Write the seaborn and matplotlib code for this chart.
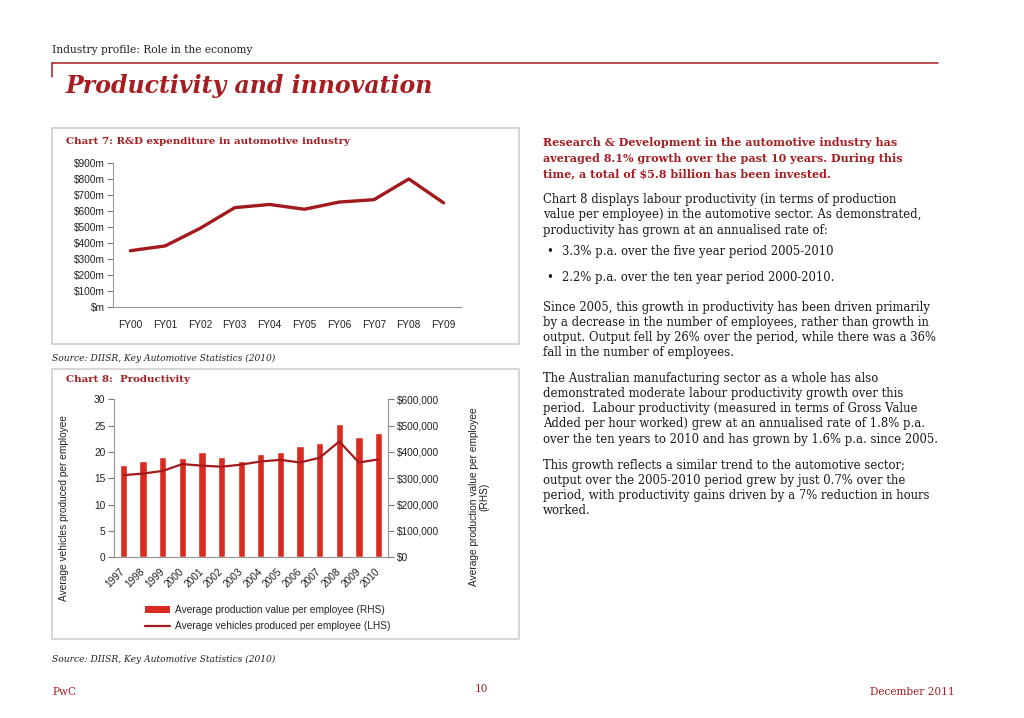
import numpy as np
import pandas as pd
import matplotlib
matplotlib.use("Agg")
import matplotlib.pyplot as plt
import seaborn as sns
from matplotlib.patches import Rectangle, Patch
from matplotlib.lines import Line2D
from matplotlib.ticker import FixedLocator, FuncFormatter

# -----------------------------------------
# Data
# -----------------------------------------
fy_labels = ["FY00", "FY01", "FY02", "FY03", "FY04", "FY05", "FY06", "FY07", "FY08", "FY09"]
rd_spend = [350, 380, 490, 620, 640, 610, 655, 670, 800, 650]  # $m

years = ["1997", "1998", "1999", "2000", "2001", "2002", "2003",
         "2004", "2005", "2006", "2007", "2008", "2009", "2010"]
prod_value = [349000, 365000, 380000, 377000, 400000, 380000, 367000,
              394000, 400000, 424000, 435000, 506000, 458000, 473000]  # RHS
vehicles = [15.6, 15.9, 16.4, 17.7, 17.4, 17.2, 17.6,
            18.2, 18.5, 18.0, 18.9, 22.0, 18.0, 18.6]  # LHS

header_text = "Industry profile: Role in the economy"
page_title = "Productivity and innovation"
chart7_title = "Chart 7: R&D expenditure in automotive industry"
chart8_title = "Chart 8:  Productivity"
source_text = "Source: DIISR, Key Automotive Statistics (2010)"

lead_lines = ["Research & Development in the automotive industry has",
              "averaged 8.1% growth over the past 10 years. During this",
              "time, a total of $5.8 billion has been invested."]
para1 = ["Chart 8 displays labour productivity (in terms of production",
         "value per employee) in the automotive sector. As demonstrated,",
         "productivity has grown at an annualised rate of:"]
bullets = ["3.3% p.a. over the five year period 2005-2010",
           "2.2% p.a. over the ten year period 2000-2010."]
para2 = ["Since 2005, this growth in productivity has been driven primarily",
         "by a decrease in the number of employees, rather than growth in",
         "output. Output fell by 26% over the period, while there was a 36%",
         "fall in the number of employees."]
para3 = ["The Australian manufacturing sector as a whole has also",
         "demonstrated moderate labour productivity growth over this",
         "period.  Labour productivity (measured in terms of Gross Value",
         "Added per hour worked) grew at an annualised rate of 1.8% p.a.",
         "over the ten years to 2010 and has grown by 1.6% p.a. since 2005."]
para4 = ["This growth reflects a similar trend to the automotive sector;",
         "output over the 2005-2010 period grew by just 0.7% over the",
         "period, with productivity gains driven by a 7% reduction in hours",
         "worked."]

# -----------------------------------------
# Style
# -----------------------------------------
RED = "#A61E22"
LINE_RED = "#A31A1E"
BAR_RED = "#D92B1F"
GREY = "#9a9a9a"
TICK = "#7a7a7a"
SERIF = "DejaVu Serif"
SANS = "Liberation Sans"

sns.set_theme(style="white")
plt.rcParams["font.family"] = [SANS, "DejaVu Sans"]

W, H = 1024, 718
fig = plt.figure(figsize=(W / 100, H / 100), dpi=100)


def fx(x):
    return x / W


def fy(y):
    return 1 - y / H


def add_ax(x0, y0, x1, y1):
    return fig.add_axes([fx(x0), fy(y1), (x1 - x0) / W, (y1 - y0) / H])


def txt(x, y, s, **kw):
    kw.setdefault("va", "center")
    kw.setdefault("family", SERIF)
    fig.text(fx(x), fy(y), s, **kw)


# -----------------------------------------
# Page furniture
# -----------------------------------------
txt(52, 50, header_text, fontsize=7.7, color="#222222")
fig.add_artist(Line2D([fx(51.5), fx(938)], [fy(62.5), fy(62.5)], color=RED, lw=1.1))
fig.add_artist(Line2D([fx(51.5), fx(51.5)], [fy(62.5), fy(77)], color=RED, lw=1.1))
txt(66, 86, page_title, fontsize=17.0, color=RED, weight="bold", style="italic")

for (x0, y0, x1, y1) in [(52, 128, 519, 343.5), (52, 368.5, 519, 638.5)]:
    fig.add_artist(Rectangle((fx(x0), fy(y1)), (x1 - x0) / W, (y1 - y0) / H,
                             transform=fig.transFigure, fill=False,
                             ec="#cfcfcf", lw=1.2))

txt(52, 358, source_text, fontsize=6.6, style="italic", color="#222222")
txt(52, 659, source_text, fontsize=6.6, style="italic", color="#222222")
txt(52, 692, "PwC", fontsize=7.6, color=RED)
txt(481, 689, "10", fontsize=7.6, color=RED, ha="center")
txt(955, 692, "December 2011", fontsize=7.6, color=RED, ha="right")

# -----------------------------------------
# Chart 7: R&D expenditure
# -----------------------------------------
txt(66, 142, chart7_title, fontsize=7.4, color=RED, weight="bold")

ax7 = add_ax(113, 163, 461, 306.5)
df7 = pd.DataFrame({"fy": fy_labels, "spend": rd_spend})
sns.lineplot(data=df7, x="fy", y="spend", ax=ax7, color=LINE_RED, lw=2.4)
ax7.set_xlim(-0.5, len(fy_labels) - 0.5)
ax7.set_ylim(0, 900)
ax7.set_yticks(np.arange(0, 901, 100))
ax7.yaxis.set_major_formatter(FuncFormatter(lambda v, p: f"${int(v)}m" if v else "$m"))
ax7.set_xticks(range(len(fy_labels)))
ax7.set_xticklabels(fy_labels)
ax7.xaxis.set_minor_locator(FixedLocator(np.arange(-0.5, len(fy_labels), 1.0)))
ax7.tick_params(axis="x", which="major", length=0, pad=10, labelsize=7.3, colors="#222222")
ax7.tick_params(axis="x", which="minor", length=4, width=0.8, color=TICK, direction="out")
ax7.tick_params(axis="y", length=4, width=0.8, color=TICK, direction="out",
                labelsize=7.3, labelcolor="#222222", pad=2, left=True)
for side in ["top", "right"]:
    ax7.spines[side].set_visible(False)
for side in ["left", "bottom"]:
    ax7.spines[side].set_color(GREY)
    ax7.spines[side].set_linewidth(0.8)
ax7.set_xlabel("")
ax7.set_ylabel("")
ax7.grid(False)

# -----------------------------------------
# Chart 8: Productivity
# -----------------------------------------
txt(66, 380, chart8_title, fontsize=7.4, color=RED, weight="bold")

ax8 = add_ax(113.7, 399.3, 388.3, 557.3)
sns.barplot(x=years, y=prod_value, color=BAR_RED, width=0.37, saturation=1, ax=ax8)
axl = ax8.twinx()
df8 = pd.DataFrame({"year": years, "veh": vehicles})
sns.lineplot(data=df8, x="year", y="veh", ax=axl, color=LINE_RED, lw=1.6)

# bars read against the right axis, line against the left one
ax8.set_ylim(0, 600000)
ax8.set_yticks(np.arange(0, 600001, 100000))
ax8.yaxis.set_major_formatter(FuncFormatter(lambda v, p: f"${int(v):,}"))
ax8.yaxis.tick_right()
ax8.tick_params(axis="y", length=4, width=0.8, color=TICK, direction="out",
                labelsize=7.3, labelcolor="#222222", pad=2,
                right=True, left=False, labelright=True, labelleft=False)
axl.yaxis.tick_left()
axl.set_ylim(0, 30)
axl.set_yticks(np.arange(0, 31, 5))
axl.tick_params(axis="y", length=4, width=0.8, color=TICK, direction="out",
                labelsize=7.3, labelcolor="#222222", pad=2,
                left=True, right=False, labelleft=True, labelright=False)
ax8.set_xlim(-0.5, len(years) - 0.5)

ax8.set_xticks(range(len(years)))
ax8.set_xticklabels(years, rotation=45, ha="right", va="center", rotation_mode="anchor")
ax8.xaxis.set_minor_locator(FixedLocator(np.arange(-0.5, len(years), 1.0)))
ax8.tick_params(axis="x", which="major", length=0, pad=9, labelsize=7.3, colors="#222222")
ax8.tick_params(axis="x", which="minor", length=4, width=0.8, color=TICK, direction="out")
for a in (ax8, axl):
    a.spines["top"].set_visible(False)
    for side in ["left", "right", "bottom"]:
        a.spines[side].set_color(GREY)
        a.spines[side].set_linewidth(0.8)
    a.set_xlabel("")
    a.set_ylabel("")
    a.grid(False)
axl.tick_params(axis="x", which="both", bottom=False, labelbottom=False)

fig.text(fx(64), fy(508), "Average vehicles produced per employee", rotation=90,
         ha="center", va="center", fontsize=7.3, color="#222222")
fig.text(fx(479), fy(497), "Average production value per employee\n(RHS)", rotation=90,
         ha="center", va="center", fontsize=7.3, color="#222222", linespacing=1.1,
         multialignment="center")

handles = [Patch(facecolor=BAR_RED, edgecolor="none"),
           Line2D([0], [0], color=LINE_RED, lw=1.6)]
fig.legend(handles, ["Average production value per employee (RHS)",
                     "Average vehicles produced per employee (LHS)"],
           loc="upper left", bbox_to_anchor=(fx(145), fy(605)), frameon=False,
           fontsize=7.3, handlelength=2.5, handletextpad=0.5, labelspacing=0.6,
           borderpad=0, borderaxespad=0)

# -----------------------------------------
# Right-hand text column
# -----------------------------------------
body = dict(fontsize=8.4, color="#1a1a1a")
for i, s in enumerate(lead_lines):
    txt(543, 143 + i * 15.5, s, fontsize=8.05, color=RED, weight="bold")
for i, s in enumerate(para1):
    txt(543, 199 + i * 15.5, s, **body)
for y, s in zip([252, 278], bullets):
    txt(546, y, "\u2022", **body)
    txt(562, y, s, **body)
for i, s in enumerate(para2):
    txt(543, 307 + i * 15.3, s, **body)
for i, s in enumerate(para3):
    txt(543, 378 + i * 15.3, s, **body)
for i, s in enumerate(para4):
    txt(543, 465 + i * 15.3, s, **body)

fig.savefig("out.png", dpi=100)
